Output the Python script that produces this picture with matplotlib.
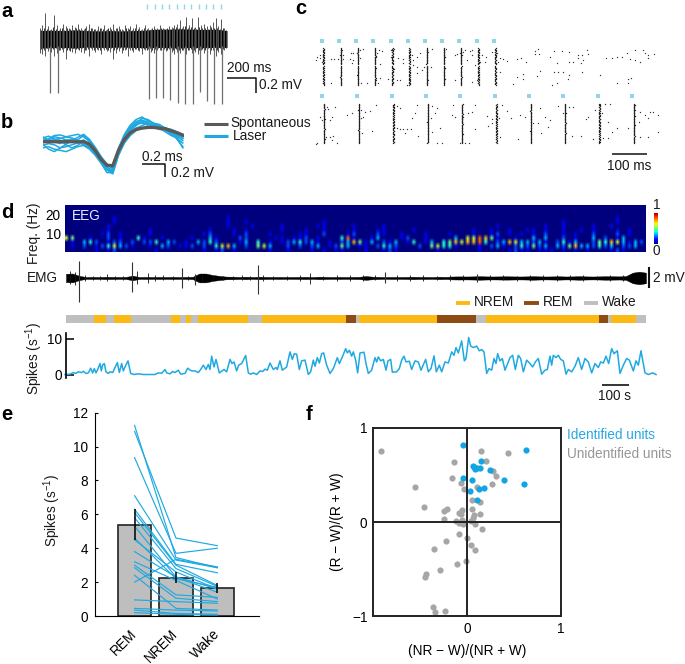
import numpy as np
import matplotlib
matplotlib.use("Agg")
import matplotlib.pyplot as plt

plt.rcParams['font.family'] = ['Liberation Sans', 'DejaVu Sans']
plt.rcParams['mathtext.default'] = 'regular'
FS = 9.8
W, H = 685, 664
BLUE = '#1FA9E1'
CYAN = '#8FD6E6'

# ---------- panel a
a_times = [20 * i for i in range(64)]
a_up = [.16,.2,.37,.18,.14,.34,.2,.16,.22,.18,.15,.2,.17,.22,.16,.14,.19,.22,.16,.14,.18,.15,.2,.14,.17,.22,.15,.18,.14,.2,.16,.19,
        .15,.21,.17,.14,.2,.16,.14,.18,.15,.2,.16,.14,.19,.17,.2,.22,.27,.18,.32,.2,.3,.17,.32,.2,.22,.18,.2,.24,.3,.18,.28,.16]
a_down = [-.2,-.22,-.24,-.17,-.18,-.24,-.2,-.16,-.18,-.28,-.15,-.18,-.2,-.14,-.18,-.2,-.16,-.24,-.15,-.18,-.16,-.22,-.15,-.17,-.19,-.28,-.2,-.17,-.2,-.16,-.24,-.15,
          -.18,-.14,-.17,-.22,-.16,-.14,-.18,-.2,-.16,-.15,-.2,-.17,-.14,-.18,-.22,-.18,-.2,-.15,-.22,-.16,-.2,-.18,-.22,-.15,-.2,-.17,-.22,-.16,-.24,-.18,-.22,-.16]
a_times2 = [10 + 20 * i for i in range(64)]
a_up2 = [.13,.15,.14,.13,.17,.14,.13,.16,.13,.15,.14,.13,.16,.14,.13,.15,.13,.16,.14,.13,.15,.14,.13,.16,.14,.13,.15,.14,.13,.15,.14,.13,
         .16,.14,.13,.15,.14,.13,.16,.14,.13,.15,.14,.16,.13,.15,.17,.15,.16,.18,.15,.17,.16,.14,.17,.15,.16,.14,.17,.15,.16,.14,.15,.13]
a_down2 = [-.14,-.16,-.13,-.15,-.14,-.13,-.16,-.14,-.13,-.15,-.17,-.13,-.14,-.16,-.13,-.15,-.14,-.13,-.16,-.14,-.15,-.13,-.14,-.16,-.13,-.15,-.14,-.13,-.16,-.14,-.13,-.15,
           -.14,-.16,-.13,-.14,-.15,-.13,-.16,-.14,-.13,-.15,-.14,-.16,-.13,-.15,-.14,-.16,-.15,-.13,-.16,-.14,-.15,-.13,-.16,-.14,-.15,-.13,-.16,-.14,-.15,-.13,-.14,-.13]
a_core_t = [0,80,160,240,320,400,480,560,640,720,800,880,960,1040,1120,1200,1278]
a_core_up = [.12,.125,.12,.13,.12,.115,.12,.115,.12,.125,.14,.14,.145,.14,.135,.14,.12]
a_core_down = [-.13,-.125,-.12,-.13,-.115,-.12,-.12,-.115,-.12,-.125,-.12,-.125,-.13,-.12,-.125,-.12,-.12]
a_spike_t = [72,126,744,792,844,892,942,992,1044,1095,1142,1192,1242]
a_spike_low = [-.776,-.776,-.857,-.847,-.847,-.87,-.91,-.935,-.935,-.76,-.89,-.935,-.935]
a_pulses = [735,785,835,885,935,985,1035,1085,1135,1185,1235]

# ---------- panel b
b_t = [round(.05 * i, 2) for i in range(25)]
b_mean = [0,0,0,0,0,0,0,0,-.04,-.146,-.286,-.38,-.39,-.135,.04,.146,.2,.22,.232,.232,.22,.21,.178,.146,.108]
b_laser = [
 [.05,.02,.08,.06,.03,.01,-.02,-.04,-.08,-.2,-.33,-.45,-.47,-.16,.06,.2,.3,.38,.36,.3,.26,.2,.15,.1,.05],
 [-.02,.05,.1,.11,.08,.1,.12,.08,.0,-.12,-.28,-.38,-.42,-.12,.1,.22,.3,.32,.28,.27,.24,.22,.19,.12,.06],
 [-.1,-.08,-.12,-.14,-.16,-.12,-.08,-.06,-.12,-.22,-.35,-.5,-.5,-.2,.0,.15,.22,.26,.3,.28,.25,.2,.12,.08,.02],
 [.06,.09,.04,.05,.08,.06,.03,.1,.02,-.1,-.24,-.36,-.44,-.1,.12,.27,.36,.4,.34,.3,.28,.22,.2,.16,.1],
 [-.06,-.03,-.05,-.1,-.08,-.05,-.02,.03,-.06,-.18,-.32,-.46,-.52,-.22,-.02,.1,.18,.22,.24,.25,.24,.2,.13,.05,-.02],
 [.02,.0,.04,.02,-.05,-.1,-.06,.02,-.03,-.14,-.3,-.42,-.46,-.14,.08,.18,.26,.34,.3,.24,.2,.18,.14,.1,.08],
 [-.04,-.12,-.16,-.1,-.04,.02,.07,.12,.04,-.09,-.25,-.4,-.48,-.18,.04,.2,.28,.3,.27,.29,.26,.22,.16,.04,-.08],
 [.08,.03,.0,-.03,.02,.04,.0,-.05,-.1,-.17,-.3,-.44,-.5,-.12,.1,.24,.33,.35,.32,.26,.22,.16,.1,.06,-.1],
]

# ---------- panel c (time on a recording clock, trial position down the raster)
c1_pulses = [65,117,168,220,272,323,375,427,478,530,581]
c2_pulses = [67,171,275,378,481,584,687,790,893,997]
c1_trials = [145,147,149,151,153,155,157,159,162,164,166,168,170,172,175,177,179,181,183,185,188,190,192,199,201,203,205,208,210,213,215,217,219,222,224,226,228,231,233,236,238,241,243,246,248,250,252,255]
c2_trials = [312,314,316,318,320,322,325,327,329,331,334,336,338,340,343,345,347,349,352,354,356,358,361,363,365,367,370,372,374,376,379,381,383,385,388,390,392,394,397,399,401,403,406,408,411,413,416,418,420,422,425,427,430]
c_jitter = [0,.5,-.5,1,0,-.5,.5,1.5,0,-.5,1,0,.5,-1,.5,0,1,-.5,0,.5,1.5,-.5,0,.5,0,1,-.5]
c1_t = [47,50,60,65,72,60,93,103,113,128,125,130,92,72,152,160,170,180,190,160,155,180,200,182,150,
        238,245,228,232,240,240,235,228,295,308,283,290,300,265,272,283,272,335,350,360,340,350,330,322,310,338,
        372,380,392,395,385,365,350,385,438,465,470,480,495,510,490,515,500,465,515,545,558,555,540,525,515,530,
        590,600,610,620,595,600,575,650,662,677,705,715,705,718,750,762,785,808,770,808,820,835,845,835,850,843,860,865,
        918,935,950,965,982,990,1005,1020,1005,1030,1035,1045,1063,1045,670,650,668,640,712,720,762,775,788,770,808,845,805,755,900,952,985,993,985]
c1_y = [180,170,165,185,180,175,177,177,177,178,150,165,250,250,158,158,158,150,148,180,190,175,248,248,178,
        150,152,170,158,192,235,248,240,175,178,207,240,240,238,150,148,170,165,170,160,195,200,240,255,188,180,
        200,200,200,148,155,210,220,240,148,165,162,160,150,152,155,150,180,240,165,165,170,185,185,195,245,240,
        160,175,178,183,185,215,155,178,175,185,152,148,162,162,172,153,152,155,190,185,185,165,165,175,180,188,150,162,
        175,175,172,170,160,178,180,185,150,150,158,165,162,175,222,230,238,252,228,212,215,215,215,248,225,215,238,255,225,248,238,235,250]
c2_t = [47,65,60,80,85,105,95,90,78,90,98,110,50,95,140,155,182,195,210,190,228,215,185,182,
        290,300,290,300,310,320,332,350,345,335,315,355,395,410,405,392,420,412,425,395,
        455,460,465,490,505,515,525,525,480,495,507,560,575,565,575,598,605,622,632,600,655,
        660,675,700,715,720,735,750,745,722,775,808,820,790,815,843,865,858,
        885,900,915,930,905,925,950,935,910,925,880,1005,1020,1035,1050,1060,1075,1045,1018,1075,1045,1020,985]
c2_y = [432,360,350,322,328,320,350,360,410,410,408,430,430,420,345,340,330,335,333,350,315,392,400,355,
        318,325,385,388,388,388,388,315,340,355,400,408,318,325,340,355,383,428,428,395,
        345,315,352,352,340,337,315,388,428,428,428,348,358,378,370,355,315,333,355,410,418,
        345,350,368,368,325,350,360,382,400,318,320,320,340,408,408,350,358,
        330,312,312,312,340,365,385,395,415,415,418,330,335,345,335,335,345,355,365,395,410,412,385]

# ---------- panel d
spec_rows = [
 "0000000000 0000000000 0000000000 0000000000 0000000000 0000000000 0000000000 0000000000 0000000000 0000000",
 "0000000000 0000000000 0000000000 0000000000 0000000000 0000000000 0000000000 0000000000 0000000000 0000000",
 "0000000000 0000000000 0000000000 0000000000 0000000000 0000000000 0000000000 0000000000 0000000000 0000000",
 "0000000010 0000000000 0000000100 0000000000 0000000000 0000000000 0000000000 0000000000 0000000000 0010000",
 "0000000010 0000000000 0000000100 1000000000 0001000000 0000000000 0000000000 0000000000 0001000000 0010000",
 "0000000100 0000000000 0000000100 0100001000 0011000010 0001000000 0000000000 0010000000 1001000010 0100000",
 "0000000100 0000100000 0000100010 1000001000 1001000010 0011000010 0000000010 0100100110 1001001010 0010100",
 "0000001201 0000100000 0001200010 2000100001 1002000120 0021001000 1000100010 0120101010 2001010020 0020100",
 "6500100201 0041001000 0100310002 2000011011 2010004810 0130001200 1000030668 7510010030 3002010030 2013000",
 "0103420122 0202240320 1032420001 3040101234 2310102375 1302130140 1304576778 4023763323 1024130025 4763132",
 "0102012463 2100103201 1202046730 2056300202 0230125301 1024320002 0564410001 0231024252 3032573324 2302230",
 "0000010120 0000010000 0001012010 0000100100 0101011000 1001210000 0010000001 0000121101 1101010100 0121000",
]
emg_bins = [18 + 20 * i for i in range(88)]
emg_half = [.4,.42,.2,.09,.1,.09,.11,.1,.09,.1,.22,.09,.1,.09,.1,.09,.1,.09,.1,.11,
            .42,.42,.28,.2,.13,.12,.1,.12,.09,.12,.1,.09,.1,.09,.09,.1,.11,.09,.12,.1,
            .09,.1,.09,.1,.11,.18,.12,.1,.09,.1,.09,.1,.12,.1,.1,.09,.12,.1,.14,.15,
            .14,.15,.17,.15,.14,.15,.16,.15,.14,.15,.17,.15,.14,.15,.16,.14,.15,.17,.15,.14,
            .15,.17,.16,.15,.18,.5,.6,.5]
emg_bump_bins = [30,45,75,98,120,140,165,190,230,265,285,310,340,385,425,460,490,520,545,570,610,640,680,720,750,790,830,
                 870,910,945,1010,1050,1090,1130,1170,1210,1290,1330,1370,1410,1450,1490,1530,1570,1610,1650,1690]
emg_bump_up = [.7,.6,.25,.2,.2,.35,.2,.2,.7,.45,.3,.25,.2,.2,.25,.2,.2,.2,.25,.2,.3,.2,.2,.25,.5,.22,.25,
               .25,.3,.25,.3,.25,.28,.22,.3,.25,.3,.25,.22,.3,.25,.28,.3,.25,.22,.28,.3]
emg_bump_down = [-.6,-.7,-.25,-.2,-.2,-.3,-.2,-.2,-.6,-.5,-.3,-.2,-.2,-.2,-.3,-.2,-.2,-.2,-.2,-.2,-.3,-.2,-.2,-.3,-.6,-.22,-.25,
                 -.25,-.3,-.22,-.28,-.25,-.3,-.22,-.28,-.25,-.3,-.22,-.25,-.28,-.25,-.3,-.25,-.25,-.22,-.3,-.28]
emg_spike_bins = [58,217,365,405,595,975,1250]
emg_spike_up = [1.6,1.55,.95,.4,1.2,.55,.35]
emg_spike_down = [-2.3,-1.3,-.95,-.7,-1.5,-.45,-.35]
state_names = ['W','N','W','N','W','N','W','N','W','N','W','N','R','W','N','R','W','N','R','W','N','W']
state_edges = [18,101,137,162,212,333,359,377,392,414,565,606,857,888,898,1132,1247,1278,1616,1645,1653,1727,1758]
state_colors = {'N': '#FDB913', 'R': '#8E4B14', 'W': '#BFBFBF'}
rate_bins_1 = [15,30,40,47,55,65,70,78,85,92,98,103,108,113,120,124,128,133,138,145,150,158,172,178,185,190,197,204,212,222,235,250,265,285,295,305,315,320,330,338,345,355,362,375,383,388,395,405,415,422,430,438,445,450,455,462,468,478,486,492,500,510,516,522,530,536,545,550,557,565,572,580,590,600,608,615,622,630,640,648,652,660,667,680,690,697,703,710,718,725,735,745,752,760,765,772,778,785,791,800,810,820,832,838,848,857,862,868,875,880,887,893]
rate_vals_1 = [0,.1,.55,.3,.75,.55,.9,.3,.45,1.75,.45,1.65,.45,1.4,3.05,1.0,2.7,3.05,.75,.3,.75,.55,3.3,.55,3.05,1.0,2.5,3.8,.3,0,.2,0,0,0,.45,.35,1.4,.45,.2,.85,.55,1.2,.1,.3,1.75,1.4,1.0,1.0,.55,1.4,2.6,1.4,2.8,1.4,5.1,2.1,4.2,.45,1.0,1.4,.75,4.2,3.05,3.5,1.0,2.6,3.05,4.0,5.3,.45,.1,.45,0,1.0,.85,1.5,1.2,3.2,1.4,1.95,1.4,3.8,1.2,2.1,6.3,4.2,5.8,5.65,1.4,3.8,4.0,0,.75,4.0,2.3,4.7,3.2,5.8,6.0,2.6,.3,1.65,4.7,3.05,5.1,7.2,6.0,6.75,5.1,6.3,4.0,.45]
rate_bins_2 = [900,912,918,925,935,945,950,955,962,970,978,984,992,997,1010,1018,1025,1032,1038,1048,1055,1065,1075,1083,1097,1105,1113,1122,1129,1138,1145,1155,1165,1175,1182,1188,1195,1205,1213,1218,1226,1232,1240,1250,1258,1265,1272,1280,1287,1295,1302,1308,1313,1320,1327,1335,1345,1350,1358,1366,1375,1382,1390,1400,1410,1418,1426,1435,1445,1455,1462,1470,1475,1480,1488,1495,1502,1510,1518,1525,1535,1545,1555,1565,1575,1585,1595,1605,1615,1622,1630,1638,1646,1655,1662,1672,1680,1690,1700,1708,1720,1728,1735,1743,1755,1765,1778,1788]
rate_vals_2 = [6.0,6.2,3.05,.3,1.2,4.7,3.5,4.9,3.8,4.2,1.2,3.8,4.2,.65,.75,1.65,4.0,5.1,3.5,3.7,1.4,3.8,3.5,1.2,4.2,.75,1.65,5.2,.75,2.6,.75,3.5,3.2,6.3,5.35,7.5,6.0,9.35,3.8,4.45,10.3,7.9,7.5,7.9,6.6,6.95,6.3,.3,1.65,1.2,4.45,3.05,5.8,3.8,4.45,1.2,3.5,4.7,5.35,1.4,5.35,4.45,.75,4.0,3.05,2.1,3.5,4.45,.1,1.2,1.4,5.1,2.6,5.35,4.7,5.35,4.2,3.8,.1,1.4,.75,2.3,4.7,1.4,4.45,3.5,.45,3.05,1.95,3.5,3.2,5.1,3.05,7.2,5.8,6.6,.3,2.6,4.45,4.0,1.0,3.8,2.6,6.6,.45,0,.45,0]

# ---------- panel e
e_states = ['REM', 'NREM', 'Wake']
e_means = [5.38, 2.27, 1.63]
e_err_low = [4.5, 1.95, 1.35]
e_err_high = [6.3, 2.6, 1.95]
e_units = [
 [11.25,3.45,2.85],[10.9,4.6,4.15],[9.35,3.7,4.0],[7.1,3.3,2.85],[6.3,3.05,2.55],[6.1,3.0,1.8],
 [5.8,2.8,1.75],[5.3,2.3,1.6],[4.6,2.2,1.7],[4.5,2.6,1.6],[3.8,2.3,1.4],[3.2,2.1,1.0],
 [3.0,1.25,1.1],[2.85,1.05,.85],[2.0,3.35,2.9],[2.4,.45,.35],[.95,.85,.75],[.45,.35,.3],[.35,.15,.1],[.2,.1,.05],
]

# ---------- panel f
f_id_x = [-.04,.63,.15,.06,.07,.085,.11,.14,.24,-.04,.05,.39,.61,.03,.13,.18,.11]
f_id_y = [.82,.77,.65,.60,.58,.56,.57,.57,.55,.47,.45,.45,.40,.33,.35,.36,.23]
f_un_x = [-.91,.15,.44,-.135,.2,.28,.31,-.16,-.06,.27,-.55,-.035,.11,.05,.14,-.46,-.21,-.245,.053,-.05,-.09,-.06,.14,-.25,.075,.06,-.12,-.09,-.05,-.04,.08,.04,.163,-.09,0,-.227,.043,-.348,.089,-.014,-.11,-.29,-.433,-.444,-.366,-.345,-.238]
f_un_y = [.76,.76,.73,.64,.65,.54,.49,.47,.42,.40,.37,.355,.37,.23,.21,.156,.14,.117,.142,.13,.10,.09,.08,.035,.07,.046,.014,-.007,.018,-.025,-.018,.01,-.078,-.128,-.174,-.2,-.245,-.287,-.294,-.41,-.45,-.514,-.55,-.585,-.904,-.954,-.95]

fig = plt.figure(figsize=(W / 100, H / 100), dpi=100)

def rect(x0, y0, x1, y1, **kw):
    return fig.add_axes([x0 / W, 1 - y1 / H, (x1 - x0) / W, (y1 - y0) / H], **kw)

def blank(ax):
    ax.set_axis_off()
    return ax

# a
ax = blank(rect(39.5, 0, 227, 110))
ax.set_xlim(0, 1278); ax.set_ylim(-1.014, .557)
ax.vlines(a_times, a_down, a_up, color='#555555', lw=.7)
ax.vlines(a_times2, a_down2, a_up2, color='#333333', lw=.7)
ax.fill_between(a_core_t, a_core_down, a_core_up, color='black', lw=0)
ax.vlines(a_spike_t, a_spike_low, -.1, color='#6e6e6e', lw=.9)
ax.vlines(a_pulses, .43, .5, color=CYAN, lw=1)

# b
ax = blank(rect(42.7, 110, 184, 180))
ax.set_xlim(0, 1.21); ax.set_ylim(-.62, .514)
for w in b_laser:
    ax.plot(b_t, w, color=BLUE, lw=1.1)
ax.plot(b_t, b_mean, color='#595959', lw=2.4)

# c
ax = blank(rect(300, 33.3, 685, 160))
ax.set_xlim(0, 1155); ax.set_ylim(480, 100)
ax.scatter(c1_pulses, [123] * len(c1_pulses), marker='s', s=6, color=CYAN, lw=0)
ax.scatter(c2_pulses, [289] * len(c2_pulses), marker='s', s=6, color=CYAN, lw=0)
for p, pulse in enumerate(c1_pulses):
    ax.scatter([pulse + 5 + c_jitter[(i + p * 3) % len(c_jitter)] for i in range(len(c1_trials))], c1_trials,
               marker='o', s=1.0, color='#222222', lw=0)
for p, pulse in enumerate(c2_pulses):
    ax.scatter([pulse + 5 + c_jitter[(i + p * 5) % len(c_jitter)] for i in range(len(c2_trials))], c2_trials,
               marker='o', s=1.0, color='#222222', lw=0)
ax.scatter(c1_t, c1_y, marker='o', s=.9, color='#333333', lw=0)
ax.scatter(c2_t, c2_y, marker='o', s=.9, color='#333333', lw=0)

# d spectrogram (dark gaps between the read cells keep the grain of the original)
cells = np.array([[int(ch) / 10 for ch in r.replace(' ', '')] for r in spec_rows])
spec = np.zeros((cells.shape[0], cells.shape[1] * 2))
spec[:, ::2] = cells
ax = rect(65, 204.7, 646, 252)
ax.imshow(spec, cmap='jet', vmin=0, vmax=1, aspect='auto', interpolation='bilinear',
          extent=[0, 2178, .5, 25.4])
for s in ax.spines.values():
    s.set_visible(False)
ax.set_xticks([])
ax.set_yticks([10, 20]); ax.set_yticklabels(['10', '20'], fontsize=FS)
ax.tick_params(axis='y', length=0, pad=3)
ax.text(.012, .76, 'EEG', color='#E8ECFF', fontsize=FS, transform=ax.transAxes, va='center')

# d colour bar
ax = rect(654, 212.7, 657.7, 244)
ax.imshow(np.linspace(1, 0, 64)[:, None], cmap='jet', aspect='auto')
ax.set_axis_off()

# d EMG
ax = blank(rect(66, 258, 646, 306))
ax.set_xlim(18, 1758); ax.set_ylim(-2.67, 1.9)
ax.fill_between(emg_bins, [-h for h in emg_half], emg_half, color='black', lw=.3)
ax.vlines(emg_bump_bins, emg_bump_down, emg_bump_up, color='#111111', lw=.6)
ax.vlines(emg_spike_bins, emg_spike_down, emg_spike_up, color='#333333', lw=.8)

# d states
ax = blank(rect(66, 315.3, 646, 323))
ax.set_xlim(18, 1758); ax.set_ylim(0, 1)
ax.bar(state_edges[:-1], [1] * len(state_names), width=np.diff(state_edges), align='edge',
       color=[state_colors[s] for s in state_names], lw=0)

# d rate
ax = rect(66, 333, 646, 378)
ax.patch.set_alpha(0)
ax.set_xlim(18, 1758); ax.set_ylim(-.97, 11.55)
ax.plot(rate_bins_1 + rate_bins_2, rate_vals_1 + rate_vals_2, color=BLUE, lw=1.1, clip_on=False)
for k in ('top', 'right', 'bottom'):
    ax.spines[k].set_visible(False)
ax.spines['left'].set_linewidth(1.2)
ax.set_xticks([]); ax.set_yticks([0, 10])
ax.tick_params(axis='y', direction='in', length=5.8, width=1.1, labelsize=FS, pad=3)

# e
ax = rect(94.7, 412.7, 258.7, 616)
ax.patch.set_alpha(0)
ax.set_xlim(-.964, 3.0); ax.set_ylim(0, 12)
pos = [0, 1, 2]
ax.bar(pos, e_means, width=.81, color='#BEBEBE', edgecolor='#222222', lw=1.2)
for u in e_units:
    ax.plot(pos, u, color=BLUE, lw=.85)
ax.vlines(pos, e_err_low, e_err_high, color='black', lw=1.1)
for k in ('top', 'right'):
    ax.spines[k].set_visible(False)
ax.set_xticks(pos)
ax.set_xticklabels(e_states, rotation=45, ha='right', va='center', rotation_mode='anchor', fontsize=FS)
ax.set_yticks(range(0, 13, 2))
ax.tick_params(axis='y', direction='in', length=2.5, labelsize=FS, pad=5)
ax.tick_params(axis='x', length=0, pad=11)

# f
ax = rect(373, 428, 561, 616)
ax.set_xlim(-1, 1); ax.set_ylim(-1, 1)
ax.scatter(f_un_x, f_un_y, s=20, color='#A6A6A6', lw=0, zorder=2)
ax.scatter(f_id_x, f_id_y, s=20, color='#12A5E4', lw=0, zorder=2)
ax.axhline(0, color='#222222', lw=1.4, zorder=3)
ax.axvline(0, color='#222222', lw=1.4, zorder=3)
for s in ax.spines.values():
    s.set_linewidth(1.4); s.set_color('#222222')
ax.set_xticks([0, 1]); ax.set_yticks([-1, 0, 1])
ax.set_yticklabels(['\u22121', '0', '1'])
ax.tick_params(length=0, labelsize=FS, pad=4)
ax.set_xlabel('(NR \u2212 W)/(NR + W)', fontsize=FS, labelpad=6)
ax.set_ylabel('(R \u2212 W)/(R + W)', fontsize=FS, labelpad=6)

# overlay: annotations, scale bars, letters
ov = blank(rect(0, 0, W, H))
ov.patch.set_alpha(0)
ov.set_xlim(0, W); ov.set_ylim(H, 0)
tc = '#1a1a1a'
def T(x, y, s, **kw):
    kw.setdefault('fontsize', FS); kw.setdefault('va', 'center'); kw.setdefault('color', tc)
    ov.text(x, y, s, **kw)
def L(xs, ys, lw=1.1, color='#111111'):
    ov.plot(xs, ys, color=color, lw=lw, solid_capstyle='butt')

for x, y, s in [(1, 17.3, 'a'), (1, 128, 'b'), (295, 14, 'c'), (1, 218, 'd'), (1, 419.5, 'e'), (306, 420, 'f')]:
    T(x, y, s, fontsize=14.5, fontweight='bold', va='baseline', color='black')

L([226.7, 256, 256], [78.3, 78.3, 92.5])
T(227.5, 68, '200 ms'); T(259, 85, '0.2 mV')
L([141.7, 165, 165], [164.3, 164.3, 176.7])
T(141.7, 157, '0.2 ms'); T(170.7, 173, '0.2 mV')
L([204, 228], [124, 124], lw=2.2, color='#595959')
L([204, 228], [135.7, 135.7], lw=2.2, color=BLUE)
T(230.7, 123.5, 'Spontaneous'); T(232.7, 136, 'Laser')
L([612.3, 646.7], [154.3, 154.3])
T(629, 166, '100 ms', ha='center')

T(34, 233, 'Freq. (Hz)', rotation=90, ha='center')
T(657, 205, '1', ha='center'); T(656, 251, '0', ha='center')
T(58, 278, 'EMG', ha='right')
L([649, 649], [267, 288], lw=1.5)
T(653, 278, '2 mV')
for x0, x1, x2, c, s in [(456, 470, 474, 'N', 'NREM'), (524, 539, 543, 'R', 'REM'), (584, 598, 602, 'W', 'Wake')]:
    L([x0, x1], [302.7, 302.7], lw=2.8, color=state_colors[c])
    T(x2, 302.5, s)
T(34, 358, 'Spikes (s$^{-1}$)', rotation=90, ha='center')
L([602, 628.7], [384.7, 384.7], lw=1.2)
T(615, 396, '100 s', ha='center')
T(52, 510, 'Spikes (s$^{-1}$)', rotation=90, ha='center')
T(566.7, 435, 'Identified units', color='#27A9E1')
T(566.7, 453.5, 'Unidentified units', color='#969696')

fig.savefig('out.png', dpi=100)
